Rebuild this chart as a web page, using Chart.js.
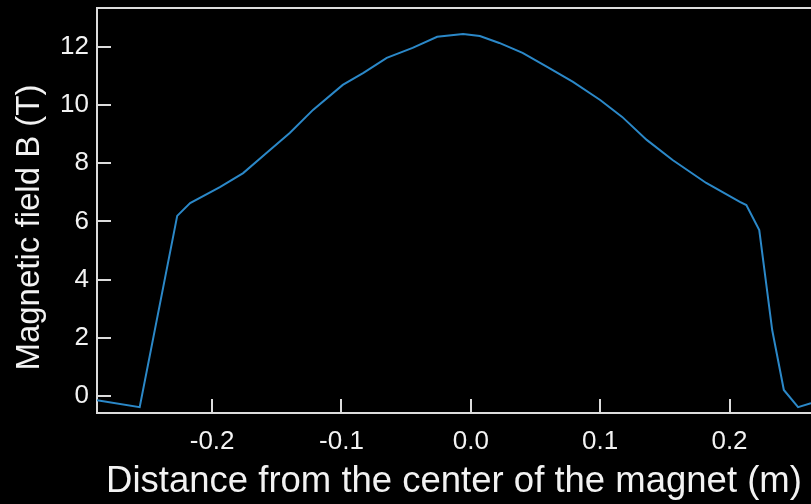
<!DOCTYPE html>
<html>
<head>
<meta charset="utf-8">
<script src="https://cdn.jsdelivr.net/npm/chart.js@4"></script>
<style>
html, body { margin: 0; padding: 0; background: #000; }
#wrap { width: 811px; height: 504px; }
</style>
</head>
<body>
<div id="wrap"><canvas id="fieldChart"></canvas></div>
<script>
// Distance from magnet centre (m) and measured field (T)
const distances = [-0.289, -0.256, -0.227, -0.217, -0.194, -0.176, -0.158, -0.140, -0.122, -0.099,
    -0.083, -0.065, -0.045, -0.026, -0.006, 0.007, 0.022, 0.040, 0.059, 0.079,
    0.100, 0.117, 0.136, 0.156, 0.182, 0.208, 0.213, 0.223, 0.233, 0.242, 0.253, 0.263];
const fieldValues = [-0.14, -0.38, 6.19, 6.63, 7.18, 7.66, 8.35, 9.04, 9.83, 10.69,
    11.10, 11.62, 11.96, 12.34, 12.44, 12.37, 12.13, 11.79, 11.31, 10.79,
    10.17, 9.59, 8.80, 8.11, 7.32, 6.67, 6.56, 5.70, 2.27, 0.21, -0.38, -0.24];

// tick positions
const xTicks = [-0.2, -0.1, 0.0, 0.1, 0.2];
const yTicks = [0, 2, 4, 6, 8, 10, 12];

const axisColor = '#dcdcdc';
const textColor = '#f2f2f2';
const fontFamily = '"Liberation Sans", Arial, Helvetica, sans-serif';

const points = distances.map((d, i) => ({ x: d, y: fieldValues[i] }));

const ctx = document.getElementById('fieldChart').getContext('2d');
new Chart(ctx, {
    type: 'line',
    data: {
        datasets: [{
            data: points,
            borderColor: '#2b88c8',
            borderWidth: 2,
            pointRadius: 0,
            fill: false,
            tension: 0
        }]
    },
    options: {
        responsive: true,
        maintainAspectRatio: false,
        animation: false,
        layout: { padding: { top: 8, left: 0, right: 0, bottom: 0 } },
        plugins: {
            legend: { display: false },
            tooltip: { enabled: false }
        },
        scales: {
            x: {
                type: 'linear',
                position: 'bottom',
                min: -0.289,
                max: 0.263,
                afterFit: s => { s.height = 91; s.paddingLeft = 0; s.paddingRight = 0; },
                afterBuildTicks: s => { s.ticks = xTicks.map(v => ({ value: v })); },
                grid: { drawOnChartArea: false, drawTicks: true, tickLength: -14, color: axisColor, lineWidth: 2 },
                border: { color: axisColor, width: 2 },
                ticks: {
                    color: textColor,
                    font: { family: fontFamily, size: 26 },
                    padding: 27,
                    autoSkip: false,
                    maxRotation: 0,
                    callback: v => v.toFixed(1)
                },
                title: {
                    display: true,
                    text: 'Distance from the center of the magnet (m)',
                    color: textColor,
                    font: { family: fontFamily, size: 36.5 },
                    padding: { top: 0, bottom: 0 }
                }
            },
            x2: {
                type: 'linear',
                position: 'top',
                min: -0.289,
                max: 0.263,
                afterFit: s => { s.height = 0; s.paddingLeft = 0; s.paddingRight = 0; },
                grid: { display: false },
                ticks: { display: false },
                border: { color: axisColor, width: 2 }
            },
            y: {
                min: -0.58,
                max: 13.33,
                afterFit: s => { s.width = 97; s.paddingTop = 0; s.paddingBottom = 0; },
                afterBuildTicks: s => { s.ticks = yTicks.map(v => ({ value: v })); },
                grid: { drawOnChartArea: false, drawTicks: true, tickLength: -14, color: axisColor, lineWidth: 2 },
                border: { color: axisColor, width: 2 },
                ticks: {
                    color: textColor,
                    font: { family: fontFamily, size: 26 },
                    padding: 22,
                    autoSkip: false
                },
                title: {
                    display: true,
                    // trailing spaces nudge the rotated title down a little
                    text: 'Magnetic field B (T)   \u2009',
                    color: textColor,
                    font: { family: fontFamily, size: 33 },
                    padding: { top: 10, bottom: 0 }
                }
            }
        }
    }
});
</script>
</body>
</html>
